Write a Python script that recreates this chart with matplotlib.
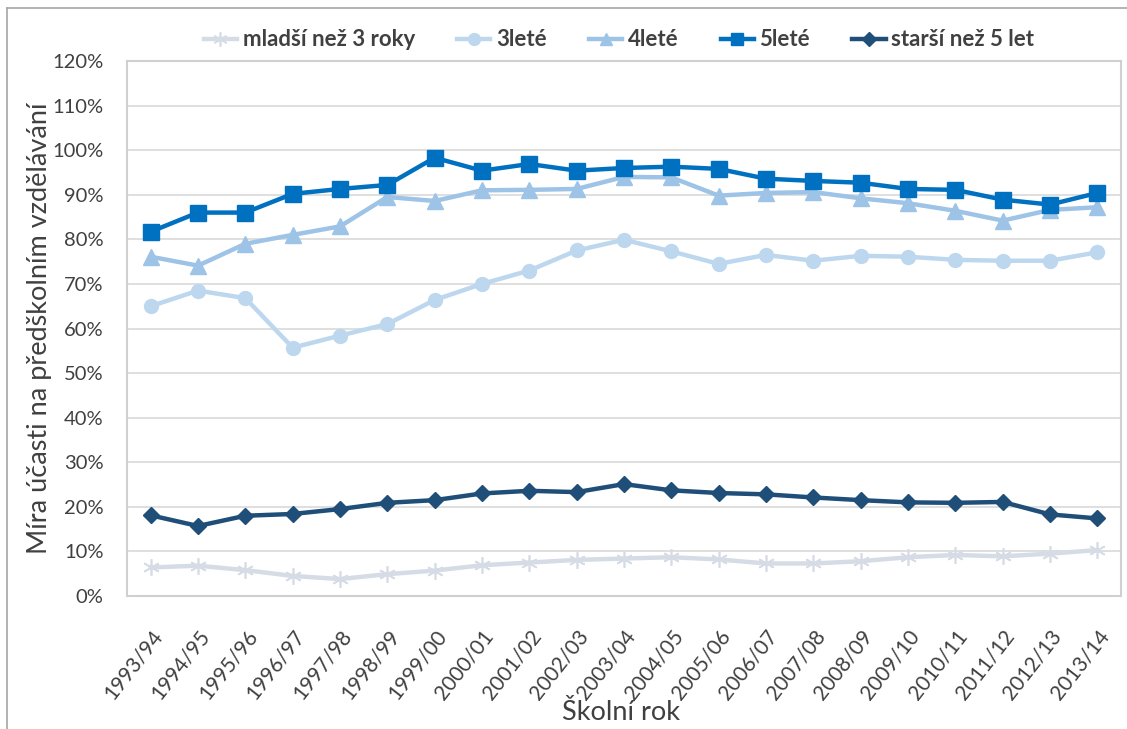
import matplotlib
matplotlib.use("Agg")
import matplotlib.pyplot as plt
from matplotlib.ticker import FuncFormatter
from matplotlib.lines import Line2D

years = ["1993/94", "1994/95", "1995/96", "1996/97", "1997/98", "1998/99", "1999/00",
         "2000/01", "2001/02", "2002/03", "2003/04", "2004/05", "2005/06", "2006/07",
         "2007/08", "2008/09", "2009/10", "2010/11", "2011/12", "2012/13", "2013/14"]

mladsi_3 = [6.4, 6.8, 5.8, 4.5, 3.8, 4.9, 5.7, 6.9, 7.5, 8.1, 8.4, 8.7, 8.2, 7.3,
            7.3, 7.8, 8.7, 9.2, 8.9, 9.5, 10.3]
lete_3 = [65.0, 68.5, 66.8, 55.7, 58.4, 61.0, 66.4, 70.0, 73.0, 77.5, 79.9, 77.3, 74.5, 76.5,
          75.2, 76.3, 76.1, 75.4, 75.2, 75.2, 77.1]
lete_4 = [76.1, 74.1, 79.0, 81.0, 82.9, 89.5, 88.6, 91.0, 91.1, 91.3, 94.0, 93.9, 89.8, 90.4,
          90.6, 89.2, 88.1, 86.4, 84.2, 86.6, 87.2]
lete_5 = [81.7, 86.0, 86.0, 90.2, 91.3, 92.2, 98.3, 95.4, 96.9, 95.4, 96.0, 96.3, 95.8, 93.6,
          93.1, 92.7, 91.3, 91.1, 88.9, 87.8, 90.4]
starsi_5 = [18.1, 15.7, 18.0, 18.4, 19.5, 20.9, 21.5, 23.0, 23.6, 23.3, 25.1, 23.7, 23.1, 22.8,
            22.1, 21.5, 21.0, 20.9, 21.1, 18.3, 17.4]

labels = ["mladší než 3 roky", "3leté", "4leté", "5leté", "starší než 5 let"]
yticks = list(range(0, 121, 10))

plt.rcParams['font.family'] = ['Lato', 'DejaVu Sans']

W, H = 1127, 729
fig = plt.figure(figsize=(W / 100, H / 100), dpi=100)
ax = fig.add_axes([127 / W, 1 - 596 / H, (1121 - 127) / W, (596 - 61) / H])

x = list(range(len(years)))
series = [
    (mladsi_3, '#D6DCE5', (6, 2, 0), 12, 1.2),
    (lete_3, '#BDD7EE', 'o', 10, 1),
    (lete_4, '#9DC3E6', '^', 11, 1),
    (lete_5, '#0070C0', 's', 11, 1),
    (starsi_5, '#1F4E79', 'D', 8.5, 1),
]
handles = []
for (vals, col, mk, ms, mew), lab in zip(series, labels):
    h, = ax.plot(x, vals, color=col, lw=3.2, marker=mk, ms=ms, mec=col, mfc=col,
                 mew=mew, label=lab, solid_joinstyle='round', zorder=3)
    handles.append(h)

ax.set_xlim(-0.5, len(years) - 0.5)
ax.set_ylim(0, 120)
ax.set_yticks(yticks)
ax.yaxis.set_major_formatter(FuncFormatter(lambda v, p: f"{int(v)}%"))
ax.set_xticks(x)
ax.set_xticklabels(years, rotation=52, ha='right', va='top', rotation_mode='anchor',
                   fontsize=15, color='#404040')
ax.tick_params(axis='y', labelsize=14.5, labelcolor='#404040', length=0, pad=17)
ax.tick_params(axis='x', length=0, pad=22)
ax.grid(axis='y', color='#D9D9D9', lw=1.2)
ax.set_axisbelow(True)
for s in ['top', 'right', 'left', 'bottom']:
    ax.spines[s].set_color('#D0D0D0')
    ax.spines[s].set_linewidth(1.5)

ax.set_ylabel("Míra účasti na předškolním vzdělávání", fontsize=19.5, color='#404040', labelpad=0)
fig.text(621 / W, 1 - 713 / H, "Školní rok", fontsize=19.5, color='#404040',
         ha='center', va='center')

leg = fig.legend(handles=handles, labels=labels, loc='center', ncol=5,
                 bbox_to_anchor=(619 / W, 1 - 40 / H), frameon=False,
                 prop={'weight': 'bold', 'size': 16}, columnspacing=1.9,
                 handlelength=1.5, handletextpad=0.25, markerscale=0.85)
for t in leg.get_texts():
    t.set_color('#404040')

# outer chart border (top and left edges visible)
fig.add_artist(Line2D([7 / W, 7 / W], [0, 1 - 8 / H], transform=fig.transFigure,
                      color='#A6A6A6', lw=1.2))
fig.add_artist(Line2D([7 / W, 1], [1 - 8 / H, 1 - 8 / H], transform=fig.transFigure,
                      color='#A6A6A6', lw=1.2))

fig.savefig("out.png", dpi=100)
